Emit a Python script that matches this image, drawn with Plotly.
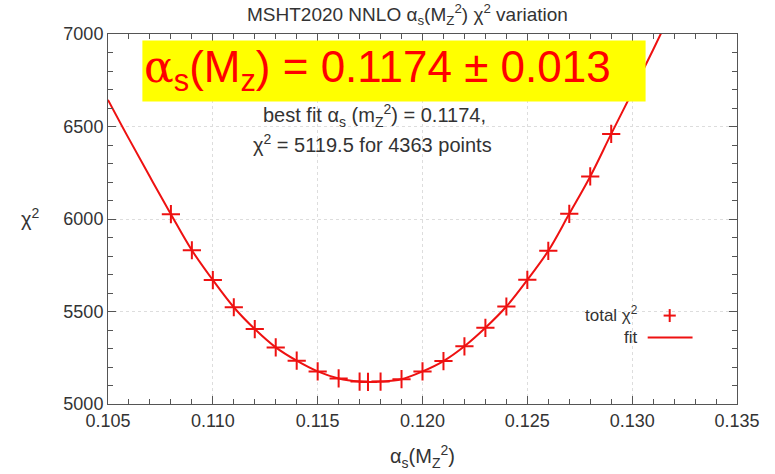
import plotly.graph_objects as go

# measured chi^2 values
alpha_s = [0.108, 0.109, 0.110, 0.111, 0.112, 0.113, 0.114, 0.115, 0.116, 0.117,
           0.1174, 0.118, 0.119, 0.120, 0.121, 0.122, 0.123, 0.124, 0.125, 0.126,
           0.127, 0.128, 0.129]
chi2 = [6026, 5831, 5670, 5523, 5405, 5306, 5234, 5176, 5138, 5121,
        5119.5, 5121, 5134, 5176, 5232, 5312, 5412, 5527, 5671, 5828,
        6028, 6230, 6460]

# fit curve
fit_x = [0.105, 0.106, 0.107, 0.108, 0.109, 0.110, 0.111, 0.112, 0.113, 0.114,
         0.115, 0.116, 0.117, 0.1174, 0.118, 0.119, 0.120, 0.121, 0.122, 0.123,
         0.124, 0.125, 0.126, 0.127, 0.128, 0.129, 0.130, 0.131, 0.132]
fit_y = [6644, 6433, 6228, 6026, 5831, 5670, 5523, 5405, 5306, 5234,
         5176, 5138, 5121, 5119.5, 5121, 5134, 5176, 5232, 5312, 5412,
         5527, 5671, 5828, 6028, 6230, 6460, 6685, 6915, 7150]

RED = "#ee1111"
AX = "#555555"
TXT = "#333333"
FONT = "Liberation Sans, Arial, sans-serif"

fig = go.Figure()
fig.add_trace(go.Scatter(x=fit_x, y=fit_y, mode="lines", line=dict(color=RED, width=2, shape="spline"),
                         showlegend=False, hoverinfo="skip"))
fig.add_trace(go.Scatter(x=alpha_s, y=chi2, mode="markers",
                         marker=dict(symbol="cross-thin", size=13, line=dict(color=RED, width=2), color=RED),
                         showlegend=False))

axis_common = dict(showline=True, linecolor=AX, linewidth=1, mirror="allticks", ticks="inside",
                   ticklen=8, tickcolor=AX, showgrid=True, gridcolor="#dddddd", griddash="dot",
                   gridwidth=1, zeroline=False, tickfont=dict(family=FONT, size=18, color=TXT))

fig.update_layout(
    width=775, height=474,
    margin=dict(l=108, r=38, t=34, b=70),
    paper_bgcolor="white", plot_bgcolor="white",
    font=dict(family=FONT, color=TXT),
    xaxis=dict(range=[0.105, 0.135], tick0=0.105, dtick=0.005, tickformat=".3f",
               minor=dict(dtick=0.001, ticks="inside", ticklen=5, tickcolor=AX, showgrid=False),
               **axis_common),
    yaxis=dict(range=[5000, 7000], tick0=5000, dtick=500,
               minor=dict(dtick=100, ticks="inside", ticklen=5, tickcolor=AX, showgrid=False),
               **axis_common),
)

# yellow highlight box
fig.add_shape(type="rect", xref="x", yref="y", x0=0.10664, x1=0.13064, y0=6635, y1=6965,
              fillcolor="#ffff00", line=dict(width=0), layer="above")

anns = [
    dict(text="MSHT2020 NNLO α<sub>s</sub>(M<sub>Z</sub><sup>2</sup>) χ<sup>2</sup> variation",
         xref="paper", yref="paper", x=0.5, y=1, xshift=-15, yshift=20, xanchor="center", yanchor="middle",
         font=dict(size=19, color=TXT)),
    dict(text="<span style=\"font-family:'DejaVu Serif'\">α</span><sub>s</sub>(M<sub>z</sub>) = 0.1174 ± 0.013",
         xref="x", yref="y", x=0.10664, y=6810, xanchor="left", yanchor="middle",
         font=dict(family="Liberation Sans Narrow, Liberation Sans, Arial", size=44, color="#ff0000")),
    dict(text="best fit α<sub>s</sub> (m<sub>Z</sub><sup>2</sup>) = 0.1174,",
         xref="x", yref="y", x=0.1177, y=6560, xanchor="center", yanchor="middle",
         font=dict(size=20, color=TXT)),
    dict(text="χ<sup>2</sup> = 5119.5 for 4363 points",
         xref="x", yref="y", x=0.1176, y=6410, xanchor="center", yanchor="middle",
         font=dict(size=20, color=TXT)),
    dict(text="total χ<sup>2</sup>", xref="x", yref="y", x=0.13036, y=5485, xanchor="right",
         yanchor="middle", font=dict(size=17, color=TXT)),
    dict(text="fit", xref="x", yref="y", x=0.13036, y=5362, xanchor="right",
         yanchor="middle", font=dict(size=17, color=TXT)),
    dict(text="χ<sup>2</sup>", xref="paper", yref="y", x=0, xshift=-78, y=6010, xanchor="center",
         yanchor="middle", font=dict(size=20, color=TXT)),
    dict(text="α<sub>s</sub>(M<sub>Z</sub><sup>2</sup>)", xref="paper", yref="paper", x=0.5, y=0,
         yshift=-52, xanchor="center", yanchor="middle", font=dict(size=20, color=TXT)),
]
for a in anns:
    a.setdefault("showarrow", False)
    fig.add_annotation(**a)

# legend samples
fig.add_shape(type="line", xref="x", yref="y", x0=0.13150, x1=0.13208, y0=5478, y1=5478,
              line=dict(color=RED, width=2))
fig.add_shape(type="line", xref="x", yref="y", x0=0.13179, x1=0.13179, y0=5443, y1=5513,
              line=dict(color=RED, width=2))
fig.add_shape(type="line", xref="x", yref="y", x0=0.13074, x1=0.13288, y0=5359, y1=5359,
              line=dict(color=RED, width=2))

fig.write_html("out.html")
